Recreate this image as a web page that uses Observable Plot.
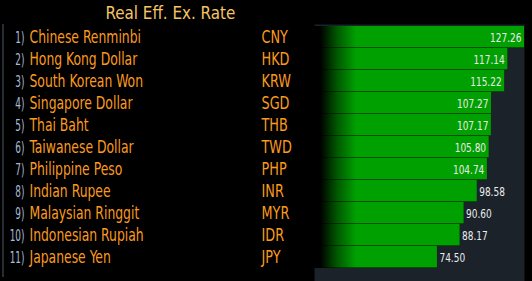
<!DOCTYPE html>
<html>
<head>
<meta charset="utf-8">
<script src="https://cdn.jsdelivr.net/npm/d3@7"></script>
<script src="https://cdn.jsdelivr.net/npm/@observablehq/plot@0.6"></script>
<style>
  html, body { margin: 0; padding: 0; background: #000; }
  #wrap { position: relative; width: 532px; height: 281px; overflow: hidden; }
  #wrap::before { content: ""; position: absolute; left: 2px; top: 24px; width: 2px; height: 253px; background: #262c34; }
  svg { display: block; }
</style>
</head>
<body>
<div id="wrap"></div>
<script>
const title = "Real Eff. Ex. Rate";
const ranks = ["1)", "2)", "3)", "4)", "5)", "6)", "7)", "8)", "9)", "10)", "11)"];
const names = ["Chinese Renminbi", "Hong Kong Dollar", "South Korean Won", "Singapore Dollar", "Thai Baht",
  "Taiwanese Dollar", "Philippine Peso", "Indian Rupee", "Malaysian Ringgit", "Indonesian Rupiah", "Japanese Yen"];
const codes = ["CNY", "HKD", "KRW", "SGD", "THB", "TWD", "PHP", "INR", "MYR", "IDR", "JPY"];
const values = [127.26, 117.14, 115.22, 107.27, 107.17, 105.80, 104.74, 98.58, 90.60, 88.17, 74.50];

const rows = codes.map((c, i) => ({rank: ranks[i], name: names[i], code: c, value: values[i]}));
const inside = rows.filter(d => d.value >= 100);
const outside = rows.filter(d => d.value < 100);
const fmt = d3.format(".2f");
const font = "'Liberation Sans Narrow', 'DejaVu Sans Condensed', sans-serif";

const chart = Plot.plot({
  width: 532,
  height: 281,
  marginLeft: 314,
  marginRight: 8,
  marginTop: 24,
  marginBottom: 0,
  style: {background: "#000", fontFamily: font},
  x: {domain: [0, d3.max(values)], axis: null},
  y: {domain: codes, range: [24, 270.5], padding: 0, axis: null},
  marks: [
    Plot.frame({fill: "#1b222a", stroke: "none"}),
    Plot.barX(rows, {x: "value", y: "code", fill: "#005200"}),
    Plot.barX(rows, {x: "value", y: "code", fill: "#00a000", insetBottom: 1}),
    Plot.barX(rows, {x: "value", y: "code", fill: "url(#fade)"}),
    Plot.text(inside, {x: "value", y: "code", text: d => fmt(d.value), textAnchor: "end", dx: -3, fill: "#ececec", fontSize: 12.5, ariaDescription: "vals-in"}),
    Plot.text(outside, {x: "value", y: "code", text: d => fmt(d.value), textAnchor: "start", dx: 2, fill: "#ececec", fontSize: 12.5, ariaDescription: "vals-out"}),
    Plot.text(rows, {y: "code", text: "rank", frameAnchor: "left", dx: -290, textAnchor: "end", fill: "#a9bad6", fontSize: 16, ariaDescription: "ranks"}),
    Plot.text(rows, {y: "code", text: "name", frameAnchor: "left", dx: -285, textAnchor: "start", fill: "#fb9a1e", fontSize: 17, ariaDescription: "names"}),
    Plot.text(rows, {y: "code", text: "code", frameAnchor: "left", dx: -53, textAnchor: "start", fill: "#fb9a1e", fontSize: 17, ariaDescription: "codes"}),
    Plot.text([title], {text: d => d, frameAnchor: "top-left", dx: -209, dy: -6, lineAnchor: "bottom", textAnchor: "start", fill: "#f7c463", fontSize: 17, ariaDescription: "title"})
  ]
});

// narrow the glyphs horizontally, each around its own anchor point
function squeeze(label, sx) {
  chart.querySelectorAll("g").forEach(g => {
    if (g.getAttribute("aria-description") !== label) return;
    g.querySelectorAll("text").forEach(t => {
      const tr = t.getAttribute("transform");
      if (tr) t.setAttribute("transform", `${tr} scale(${sx},1)`);
    });
  });
}

const x0 = chart.scale("x").apply(0);
const ns = "http://www.w3.org/2000/svg";
const defs = document.createElementNS(ns, "defs");
const grad = document.createElementNS(ns, "linearGradient");
grad.setAttribute("id", "fade");
grad.setAttribute("gradientUnits", "userSpaceOnUse");
grad.setAttribute("x1", x0);
grad.setAttribute("x2", x0 + 42);
grad.setAttribute("y1", 0);
grad.setAttribute("y2", 0);
[[0, 1], [0.15, 1], [0.55, 0.45], [1, 0]].forEach(([o, a]) => {
  const s = document.createElementNS(ns, "stop");
  s.setAttribute("offset", o);
  s.setAttribute("stop-color", "#000");
  s.setAttribute("stop-opacity", a);
  grad.appendChild(s);
});
defs.appendChild(grad);
chart.insertBefore(defs, chart.firstChild);
document.getElementById("wrap").appendChild(chart);

squeeze("names", 0.81);
squeeze("codes", 0.84);
squeeze("ranks", 0.62);
squeeze("vals-in", 0.8);
squeeze("vals-out", 0.8);
squeeze("title", 0.99);
</script>
</body>
</html>
